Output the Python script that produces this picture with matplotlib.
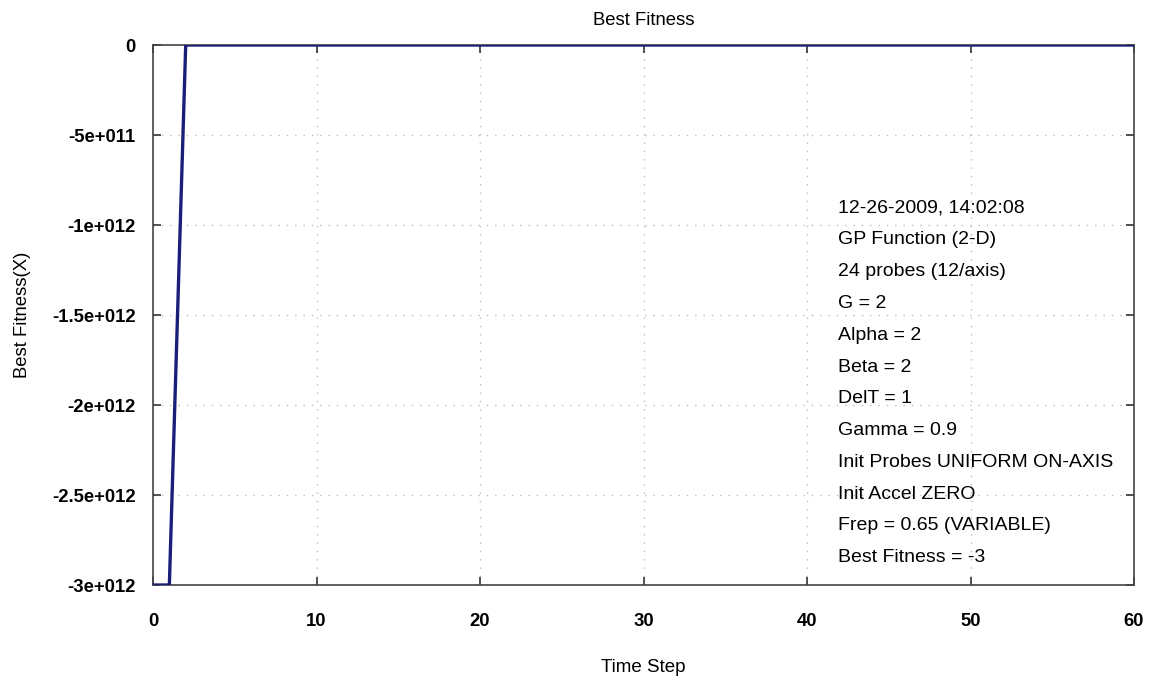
import matplotlib
matplotlib.use("Agg")
import matplotlib.pyplot as plt
import numpy as np

# Best fitness per time step
time_steps = list(range(0, 61))
best_fitness = [-3e12, -3e12] + [-3.0] * 59

y_ticks = [0, -5e11, -1e12, -1.5e12, -2e12, -2.5e12, -3e12]
y_tick_labels = ["0", "-5e+011", "-1e+012", "-1.5e+012", "-2e+012", "-2.5e+012", "-3e+012"]
x_ticks = [0, 10, 20, 30, 40, 50, 60]

run_info = [
    "12-26-2009, 14:02:08",
    "GP Function (2-D)",
    "24 probes (12/axis)",
    "G = 2",
    "Alpha = 2",
    "Beta = 2",
    "DelT = 1",
    "Gamma = 0.9",
    "Init Probes UNIFORM ON-AXIS",
    "Init Accel ZERO",
    "Frep = 0.65 (VARIABLE)",
    "Best Fitness = -3",
]

plt.rcParams["font.family"] = ["Liberation Sans", "DejaVu Sans"]

W, H = 1160, 680
fig = plt.figure(figsize=(W / 100, H / 100), dpi=100)
ax = fig.add_axes([153 / W, 1 - 585 / H, (1134 - 153) / W, (585 - 45) / H])

ax.plot(time_steps, best_fitness, color="#1b1e78", linewidth=2.4, zorder=3)

ax.set_xlim(0, 60)
ax.set_ylim(-3e12, 0)
ax.set_xticks(x_ticks)
ax.set_xticklabels([str(v) for v in x_ticks])
ax.set_yticks(y_ticks)
ax.set_yticklabels(y_tick_labels)

for lbl in ax.get_xticklabels() + ax.get_yticklabels():
    lbl.set_fontweight("bold")
    lbl.set_fontsize(13.3)

ax.tick_params(direction="in", length=6, width=1.2, color="#333333",
               top=True, right=True)
ax.tick_params(axis="y", pad=12.5)
ax.tick_params(axis="x", pad=20)

ax.grid(True, linestyle=(0, (1, 5)), color="#bdbdbd", linewidth=1.0)

for sp in ax.spines.values():
    sp.set_color("#444444")
    sp.set_linewidth(1.2)

ax.set_title("Best Fitness", fontsize=13.3, pad=14.5)
ax.set_xlabel("Time Step", fontsize=13.5, labelpad=21)
ax.set_ylabel("Best Fitness(X)", fontsize=13.3, labelpad=15)

# Run parameters listed inside the plot area
y0, dy = 208, 31.8
for i, line in enumerate(run_info):
    ypix = y0 + i * dy
    fig.text(838 / W, 1 - ypix / H, line, fontsize=14, ha="left", va="center")

fig.savefig("out.png", dpi=100)
